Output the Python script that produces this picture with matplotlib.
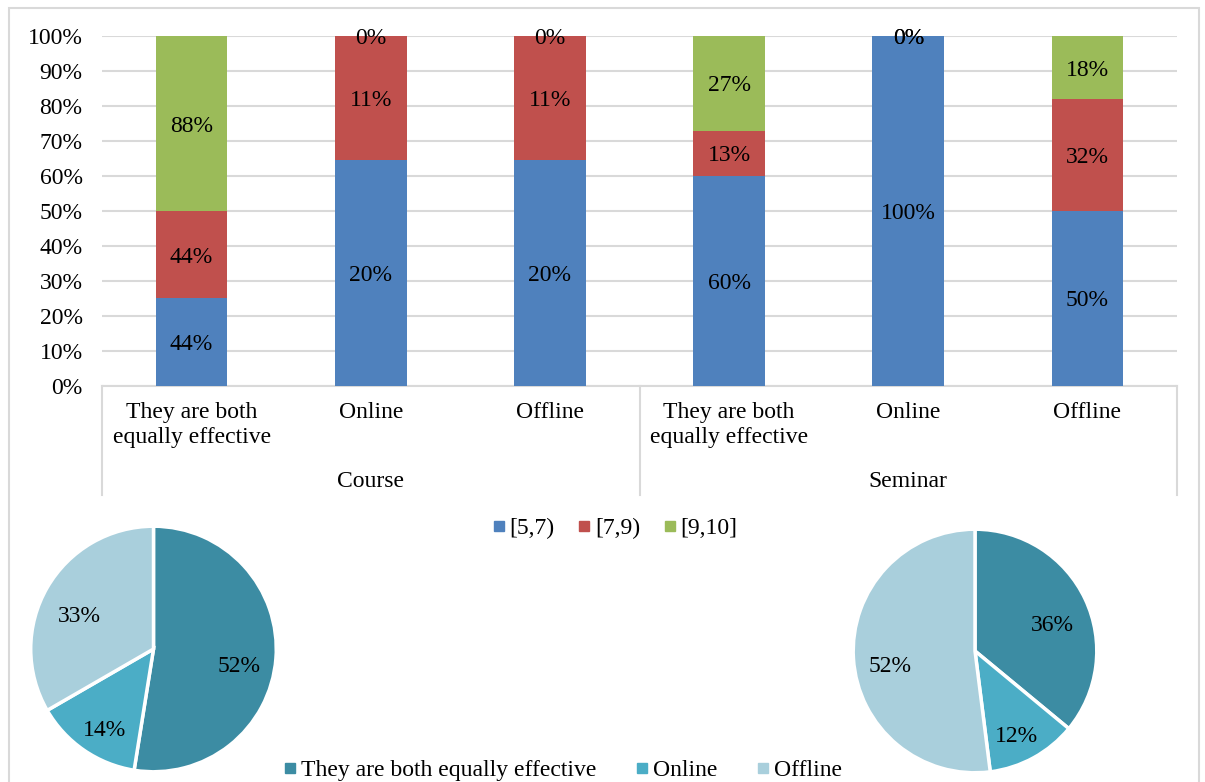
import numpy as np
import matplotlib.pyplot as plt
from matplotlib.lines import Line2D
from matplotlib.patches import Rectangle

plt.rcParams['font.family'] = ['Liberation Serif', 'DejaVu Serif']

# stacked bar data (labels are raw values, bars are normalised to 100%)
categories = ["They are both\nequally effective", "Online", "Offline",
              "They are both\nequally effective", "Online", "Offline"]
groups = ["Course", "Seminar"]
score_bins = ["[5,7)", "[7,9)", "[9,10]"]
low_vals = [44, 20, 20, 60, 100, 50]
mid_vals = [44, 11, 11, 13, 0, 32]
high_vals = [88, 0, 0, 27, 0, 18]
bar_colors = ["#4F81BD", "#C0504D", "#9BBB59"]

# pie data
pie_labels = ["They are both equally effective", "Online", "Offline"]
course_pie = [52, 14, 33]
seminar_pie = [36, 12, 52]
pie_colors = ["#3C8CA3", "#4BADC6", "#A9CFDC"]

W, H = 1205, 782
FS = 17
fig = plt.figure(figsize=(W / 100, H / 100), dpi=100)

def fx(px):
    return px / W

def fy(py):
    return 1 - py / H

# outer frame
fig.patches.append(Rectangle((fx(9), fy(790)), fx(1199) - fx(9), fy(8) - fy(790),
                             transform=fig.transFigure, fill=False,
                             edgecolor="#D9D9D9", linewidth=1.5))

# ---- stacked bars ----
ax = fig.add_axes([fx(102), fy(386), fx(1177) - fx(102), fy(36) - fy(386)])
series = np.array([low_vals, mid_vals, high_vals], dtype=float)
totals = series.sum(axis=0)
shares = series / totals
x = np.arange(len(categories))
bottom = np.zeros(len(categories))
for i in range(3):
    ax.bar(x, shares[i], 0.4, bottom=bottom, color=bar_colors[i], zorder=3)
    for xi, b, s, v in zip(x, bottom, shares[i], series[i]):
        ax.text(xi, b + s / 2, f"{int(v)}%", ha="center", va="center_baseline",
                fontsize=FS, zorder=4)
    bottom += shares[i]

ax.set_xlim(-0.5, len(categories) - 0.5)
ax.set_ylim(0, 1)
ticks = np.arange(0, 1.01, 0.1)
ax.set_yticks(ticks)
ax.set_yticklabels([f"{int(round(t * 100))}%" for t in ticks], fontsize=FS)
ax.yaxis.grid(True, color="#D9D9D9", linewidth=1.5, zorder=0)
ax.set_axisbelow(True)
ax.tick_params(axis="y", length=0, pad=14)
ax.set_xticks([])
for s in ax.spines.values():
    s.set_visible(False)

# category axis with group separators
sep = dict(color="#D9D9D9", linewidth=1.5, transform=ax.transData, clip_on=False)
y_lo = -(495 - 386) / 350
ax.plot([-0.5, len(categories) - 0.5], [0, 0], **sep)
for xv in [-0.5, 2.5, 5.5]:
    ax.plot([xv, xv], [0, y_lo], **sep)
for xi, cat in zip(x, categories):
    ax.text(xi, -(402 - 386) / 350, cat, ha="center", va="top", fontsize=FS,
            linespacing=1.25)
for gi, g in enumerate(groups):
    ax.text(1 + 3 * gi, -(482 - 386) / 350, g, ha="center", va="center", fontsize=FS)

handles = [Line2D([], [], marker="s", linestyle="none", markersize=7,
                  color=c) for c in bar_colors]
fig.legend(handles, score_bins, loc="center", bbox_to_anchor=(fx(614), fy(528)),
           ncol=3, frameon=False, fontsize=FS, handletextpad=0.1,
           columnspacing=0.9, handlelength=0.7)

# ---- pies ----
def draw_pie(cx, cy, r, vals):
    pax = fig.add_axes([fx(cx - r), fy(cy + r), fx(2 * r), fy(cy - r) - fy(cy + r)])
    wedges, texts = pax.pie(vals, colors=pie_colors, startangle=90, counterclock=False,
                            labels=[f"{v}%" for v in vals], labeldistance=0.7,
                            wedgeprops=dict(edgecolor="white", linewidth=2.5))
    for t in texts:
        t.set_ha("center")
        t.set_va("top")
        t.set_fontsize(FS)
    pax.set_xlim(-1.01, 1.01)
    pax.set_ylim(-1.01, 1.01)
    pax.set_aspect("equal")
    pax.axis("off")

draw_pie(153.5, 649, 124, course_pie)
draw_pie(975, 651, 123, seminar_pie)

handles = [Line2D([], [], marker="s", linestyle="none", markersize=7,
                  color=c) for c in pie_colors]
fig.legend(handles, pie_labels, loc="center", bbox_to_anchor=(fx(562), fy(770)),
           ncol=3, frameon=False, fontsize=FS, handletextpad=0.1,
           columnspacing=1.6, handlelength=0.7)

fig.savefig("out.png", dpi=100)
